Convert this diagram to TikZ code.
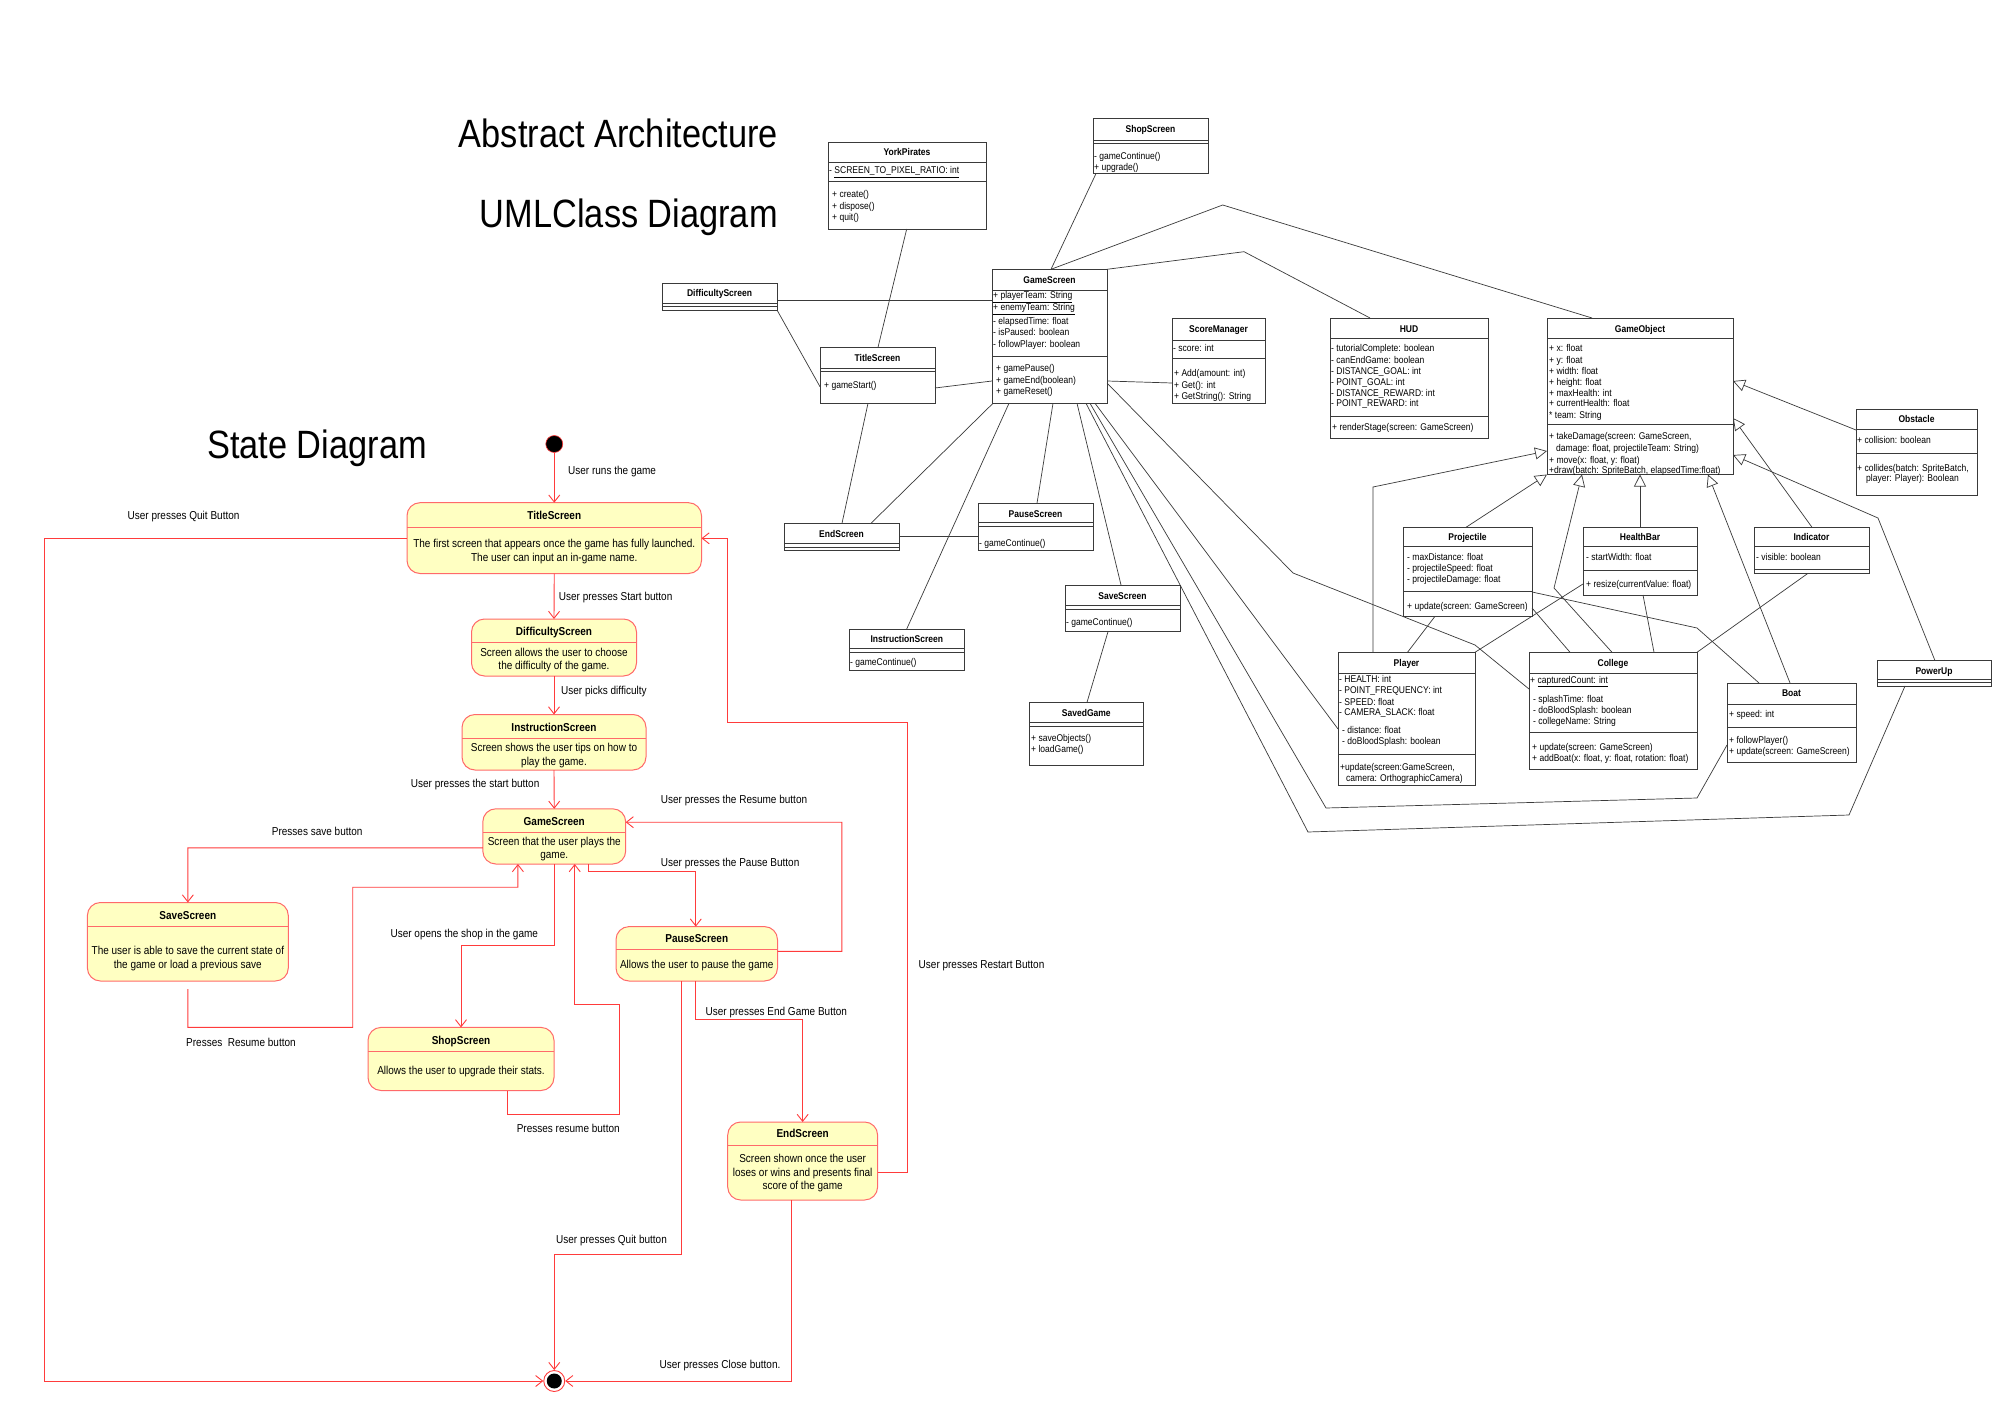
\documentclass[tikz,border=0pt]{standalone}
\usepackage{fontspec}
\setmainfont[FakeStretch=0.87]{Liberation Sans}
\usetikzlibrary{arrows.meta,calc}
\definecolor{umlc}{HTML}{3A3A3A}
\definecolor{sred}{HTML}{FF3B3B}
\definecolor{sbord}{HTML}{FF6A6A}
\definecolor{sfill}{HTML}{FFFFC2}
\newcounter{tn}
\newcommand\ctitle[3]{\stepcounter{tn}\node[ut] (t\arabic{tn}) at (#1,#2) {#3};}
\newcommand\crow[3]{\stepcounter{tn}\node[um] (t\arabic{tn}) at (#1,#2) {#3};}
\newcommand\hl[3]{\draw[ul] (#1,#3) -- (#2,#3);}
\newcommand\shl[3]{\draw[sbord, line width=1pt] (#1,#3) -- (#2,#3);}
\newcommand\stitle[3]{\stepcounter{tn}\node[stt] (t\arabic{tn}) at (#1,#2) {#3};}
\newcommand\stext[3]{\stepcounter{tn}\node[stx] (t\arabic{tn}) at (#1,#2) {#3};}
\newcommand\slabel[3]{\stepcounter{tn}\node[lbl] (t\arabic{tn}) at (#1,#2) {#3};}
\begin{document}
\begin{tikzpicture}[x=1pt,y=-1pt,
 ut/.style={font=\fontsize{9.8}{11}\selectfont\bfseries, anchor=base, inner sep=0pt},
 um/.style={font=\fontsize{9.8}{11}\selectfont, anchor=base west, inner sep=0pt},
 uml/.style={draw=umlc, line width=0.8pt, fill=white, inner sep=0pt, outer sep=0pt, anchor=north west, rectangle},
 ul/.style={draw=umlc, line width=0.8pt},
 asc/.style={draw=umlc, line width=0.7pt},
 inh/.style={asc, -{Triangle[open, length=12pt, width=12pt]}},
 st/.style={draw=sbord, line width=1pt, fill=sfill, rounded corners=13pt, inner sep=0pt, outer sep=0pt, anchor=north west, rectangle},
 stt/.style={font=\fontsize{11.5}{13}\selectfont\bfseries, anchor=base, inner sep=0pt},
 stx/.style={font=\fontsize{11.5}{13}\selectfont, anchor=base, inner sep=0pt},
 lbl/.style={font=\fontsize{11.5}{13}\selectfont, anchor=base west, inner sep=0pt},
 tr/.style={draw=sred, line width=0.9pt, -{Straight Barb[length=7pt, width=11pt]}},
 big/.style={font=\fontsize{39.5}{45}\selectfont, inner sep=0pt}]
\fill[white] (0,0) rectangle (2000,1415);
\useasboundingbox (0,0) rectangle (2000,1415);

% ---------------- headings ----------------
\node[big, anchor=base east] (hA) at (778,148) {Abstract Architecture};
\node[big, anchor=base east] (hU) at (778,228) {UMLClass Diagram};
\node[big, anchor=base west] (hS) at (207,458) {State Diagram};

% ---------------- UML class boxes ----------------
\node[uml, minimum width=158pt, minimum height=86.7pt] (yp) at (828,142.3) {};
\node[uml, minimum width=115pt, minimum height=55pt] (ssU) at (1093,118.6) {};
\node[uml, minimum width=115pt, minimum height=26.7pt] (dsU) at (662,283.3) {};
\node[uml, minimum width=115pt, minimum height=56pt] (tsU) at (820,347.3) {};
\node[uml, minimum width=115pt, minimum height=134pt] (gsU) at (992,269.3) {};
\node[uml, minimum width=93pt, minimum height=85pt] (smU) at (1172,318) {};
\node[uml, minimum width=158pt, minimum height=120pt] (hud) at (1330,318) {};
\node[uml, minimum width=186pt, minimum height=156.5pt] (goU) at (1547,318) {};
\node[uml, minimum width=121pt, minimum height=85.7pt] (obU) at (1856,409.3) {};
\node[uml, minimum width=129pt, minimum height=89pt] (prU) at (1403,527.3) {};
\node[uml, minimum width=114pt, minimum height=67.7pt] (hbU) at (1583,527.3) {};
\node[uml, minimum width=115pt, minimum height=46pt] (inU) at (1754,527.3) {};
\node[uml, minimum width=137pt, minimum height=132.7pt] (plU) at (1338,652.3) {};
\node[uml, minimum width=168pt, minimum height=117pt] (coU) at (1529,652.3) {};
\node[uml, minimum width=129pt, minimum height=79.7pt] (boU) at (1727,683) {};
\node[uml, minimum width=114pt, minimum height=25.3pt] (puU) at (1877,660.7) {};
\node[uml, minimum width=115pt, minimum height=26.7pt] (esU) at (784,523.3) {};
\node[uml, minimum width=115pt, minimum height=46.7pt] (psU) at (978,503.3) {};
\node[uml, minimum width=115pt, minimum height=46.7pt] (svU) at (1065,585) {};
\node[uml, minimum width=115pt, minimum height=41.7pt] (isU) at (849.3,629) {};
\node[uml, minimum width=114pt, minimum height=62.7pt] (sgU) at (1029.3,702.3) {};

% compartment lines
\hl{828}{986}{162.7} \hl{828}{986}{181.7}
\hl{1093}{1208}{140} \hl{1093}{1208}{143}
\hl{662}{777}{303} \hl{662}{777}{306.5}
\hl{820}{935}{368.3} \hl{820}{935}{371.7}
\hl{992}{1107}{290} \hl{992}{1107}{356}
\hl{1172}{1265}{340} \hl{1172}{1265}{358.3}
\hl{1330}{1488}{338.3} \hl{1330}{1488}{416}
\hl{1547}{1733}{338.3} \hl{1547}{1733}{424}
\hl{1856}{1977}{429.3} \hl{1856}{1977}{453.3}
\hl{1403}{1532}{546} \hl{1403}{1532}{591.7}
\hl{1583}{1697}{546.7} \hl{1583}{1697}{570.7}
\hl{1754}{1869}{546.7} \hl{1754}{1869}{569.5}
\hl{1338}{1475}{673.3} \hl{1338}{1475}{754}
\hl{1529}{1697}{673} \hl{1529}{1697}{732.7}
\hl{1727}{1856}{704} \hl{1727}{1856}{727.3}
\hl{1877}{1991}{679.3} \hl{1877}{1991}{682.7}
\hl{784}{899}{543.3} \hl{784}{899}{547}
\hl{978}{1093}{522.7} \hl{978}{1093}{526.7}
\hl{1065}{1180}{605} \hl{1065}{1180}{609}
\hl{849.3}{964.3}{648.3} \hl{849.3}{964.3}{652.3}
\hl{1029.3}{1143.3}{722} \hl{1029.3}{1143.3}{726}

% class names
\ctitle{907}{155.8}{YorkPirates}
\ctitle{1150.5}{132.5}{ShopScreen}
\ctitle{719.5}{296.5}{DifficultyScreen}
\ctitle{877.5}{361.3}{TitleScreen}
\ctitle{1049.5}{283.3}{GameScreen}
\ctitle{1218.5}{332.3}{ScoreManager}
\ctitle{1409}{332.3}{HUD}
\ctitle{1640}{332.3}{GameObject}
\ctitle{1916.5}{422}{Obstacle}
\ctitle{1467.5}{540.5}{Projectile}
\ctitle{1640}{540.5}{HealthBar}
\ctitle{1811.5}{540.5}{Indicator}
\ctitle{1406.5}{666}{Player}
\ctitle{1613}{666}{College}
\ctitle{1791.5}{696.5}{Boat}
\ctitle{1934}{674}{PowerUp}
\ctitle{841.5}{537.5}{EndScreen}
\ctitle{1035.5}{517.2}{PauseScreen}
\ctitle{1122.5}{599}{SaveScreen}
\ctitle{906.8}{642.3}{InstructionScreen}
\ctitle{1086.3}{716}{SavedGame}

% members
\crow{829}{173.5}{- \underline{SCREEN\_TO\_PIXEL\_RATIO: int}}
\crow{832}{198}{+ create()}
\crow{832}{209.7}{+ dispose()}
\crow{832}{220.3}{+ quit()}

\crow{1094}{159.7}{- gameContinue()}
\crow{1094}{170.3}{+ upgrade()}

\crow{824}{388.3}{+ gameStart()}

\crow{993}{298.7}{\underline{+ playerTeam: String}}
\crow{993}{310.3}{\underline{+ enemyTeam: String}}
\crow{993}{324.2}{- elapsedTime: float}
\crow{993}{335.7}{- isPaused: boolean}
\crow{993}{347.3}{- followPlayer: boolean}
\crow{996}{371.7}{+ gamePause()}
\crow{996}{383}{+ gameEnd(boolean)}
\crow{996}{394.7}{+ gameReset()}

\crow{1173}{352}{- score: int}
\crow{1174}{376.3}{+ Add(amount: int)}
\crow{1174}{388}{+ Get(): int}
\crow{1174}{399.7}{+ GetString(): String}

\crow{1331}{352}{- tutorialComplete: boolean}
\crow{1331}{363}{- canEndGame: boolean}
\crow{1331}{374}{- DISTANCE\_GOAL: int}
\crow{1331}{385}{- POINT\_GOAL: int}
\crow{1331}{396}{- DISTANCE\_REWARD: int}
\crow{1331}{406.5}{- POINT\_REWARD: int}
\crow{1332}{430}{+ renderStage(screen: GameScreen)}

\crow{1549}{352}{+ x: float}
\crow{1549}{363}{+ y: float}
\crow{1549}{374}{+ width: float}
\crow{1549}{385}{+ height: float}
\crow{1549}{396}{+ maxHealth: int}
\crow{1549}{406.5}{+ currentHealth: float}
\crow{1549}{418}{* team: String}
\crow{1549}{439.7}{+ takeDamage(screen: GameScreen,}
\crow{1556}{451.3}{damage: float, projectileTeam: String)}
\crow{1549}{463}{+ move(x: float, y: float)}
\crow{1549}{473.5}{+draw(batch: SpriteBatch, elapsedTime:float)}

\crow{1857}{443}{+ collision: boolean}
\crow{1857}{471.3}{+ collides(batch: SpriteBatch,}
\crow{1866}{481.3}{player: Player): Boolean}

\crow{1407}{560.7}{- maxDistance: float}
\crow{1407}{571.7}{- projectileSpeed: float}
\crow{1407}{582.7}{- projectileDamage: float}
\crow{1407}{609.7}{+ update(screen: GameScreen)}

\crow{1586}{560.7}{- startWidth: float}
\crow{1586}{587}{+ resize(currentValue: float)}

\crow{1756}{560.7}{- visible: boolean}

\crow{1339}{682.3}{- HEALTH: int}
\crow{1339}{693.3}{- POINT\_FREQUENCY: int}
\crow{1339}{705}{- SPEED: float}
\crow{1339}{715.7}{- CAMERA\_SLACK: float}
\crow{1342}{733.3}{- distance: float}
\crow{1342}{744}{- doBloodSplash: boolean}
\crow{1340}{770.7}{+update(screen:GameScreen,}
\crow{1346}{781.7}{camera: OrthographicCamera)}

\crow{1530}{683}{+ \underline{capturedCount: int}}
\crow{1533}{702}{- splashTime: float}
\crow{1533}{713}{- doBloodSplash: boolean}
\crow{1533}{724}{- collegeName: String}
\crow{1532}{750.7}{+ update(screen: GameScreen)}
\crow{1532}{761.3}{+ addBoat(x: float, y: float, rotation: float)}

\crow{1729}{717.3}{+ speed: int}
\crow{1729}{743.7}{+ followPlayer()}
\crow{1729}{754.7}{+ update(screen: GameScreen)}

\crow{979}{546.3}{- gameContinue()}
\crow{1066}{625.7}{- gameContinue()}
\crow{850}{665.7}{- gameContinue()}
\crow{1031}{741.3}{+ saveObjects()}
\crow{1031}{752}{+ loadGame()}

% ---------------- UML connectors ----------------
\draw[asc] ($(gsU.north west)+(59,0)$) -- ($(ssU.north west)+(3,55)$);
\draw[asc] ($(gsU.north west)+(59,0)$) -- (1222.7,205) -- ($(goU.north west)+(45,0)$);
\draw[asc] (gsU.north east) -- (1244,251.7) -- ($(hud.north west)+(40,0)$);
\draw[asc] ($(dsU.north east)+(0,16.7)$) -- ($(gsU.north west)+(0,30.7)$);
\draw[asc] (dsU.south east) -- ($(tsU.north west)+(0,39.4)$);
\draw[asc] ($(tsU.north west)+(58,0)$) -- ($(yp.south west)+(78.7,0)$);
\draw[asc] ($(tsU.north east)+(0,40.7)$) -- ($(gsU.north west)+(0,111.7)$);
\draw[asc] ($(gsU.north east)+(0,111.7)$) -- ($(smU.north west)+(0,65)$);
\draw[asc] ($(tsU.south west)+(48,0)$) -- ($(esU.north west)+(58,0)$);
\draw[asc] ($(gsU.south west)+(1,0)$) -- ($(esU.north west)+(87,0)$);
\draw[asc] ($(gsU.south west)+(61,0)$) -- ($(psU.north west)+(59,0)$);
\draw[asc] ($(esU.north east)+(0,13.4)$) -- ($(psU.north west)+(0,33.4)$);
\draw[asc] ($(gsU.south west)+(17,0)$) -- ($(isU.north west)+(57.4,0)$);
\draw[asc] ($(gsU.south west)+(85,0)$) -- ($(svU.north west)+(56,0)$);
\draw[asc] ($(svU.south west)+(43,0)$) -- ($(sgU.north west)+(57.7,0)$);
\draw[asc] ($(gsU.north east)+(0,113.7)$) -- (1293,573) -- (1475,645) -- ($(coU.north west)+(0,36.7)$);
\draw[asc] ($(gsU.south west)+(103,0)$) -- ($(plU.north west)+(0,76.7)$);
\draw[asc] ($(gsU.south west)+(98,0)$) -- (1326,808) -- (1697,798) -- ($(boU.north west)+(0,62)$);
\draw[asc] ($(gsU.south west)+(94,0)$) -- (1308,832) -- (1849,815) -- ($(puU.south west)+(28,0)$);
\draw[inh] ($(obU.north west)+(0,20.7)$) -- ($(goU.north east)+(0,63)$);
\draw[inh] ($(inU.north west)+(58,0)$) -- ($(goU.north east)+(0,100)$);
\draw[inh] ($(puU.north west)+(58,0)$) -- (1878,518) -- ($(goU.north east)+(0,137)$);
\draw[inh] ($(boU.north west)+(63,0)$) -- ($(goU.south west)+(161,0)$);
\draw[inh] ($(hbU.north west)+(57,0)$) -- ($(goU.south west)+(93,0)$);
\draw[inh] ($(coU.north west)+(83,0)$) -- (1554,588) -- ($(goU.south west)+(35,0)$);
\draw[inh] ($(prU.north west)+(63,0)$) -- (goU.south west);
\draw[inh] ($(plU.north west)+(35,0)$) -- (1373,487) -- ($(goU.north west)+(0,133)$);
\draw[asc] ($(prU.south west)+(32,0)$) -- ($(plU.north west)+(69.5,0)$);
\draw[asc] ($(prU.north east)+(0,80.7)$) -- ($(coU.north west)+(41,0)$);
\draw[asc] ($(prU.north east)+(0,64.7)$) -- (1697,628) -- ($(boU.north west)+(32,0)$);
\draw[asc] ($(hbU.north west)+(0,56.7)$) -- (plU.north east);
\draw[asc] ($(hbU.south west)+(60,0)$) -- ($(coU.north west)+(125,0)$);
\draw[asc] ($(inU.south west)+(54,0)$) -- (coU.north east);

% ---------------- State diagram ----------------
\node[st, minimum width=294.5pt, minimum height=70.8pt] (sTitle) at (407,502.7) {};
\node[st, minimum width=165pt, minimum height=57pt] (sDiff) at (471.5,619) {};
\node[st, minimum width=184pt, minimum height=55.5pt] (sInstr) at (462,714.5) {};
\node[st, minimum width=142.9pt, minimum height=55.2pt] (sGame) at (482.8,808.8) {};
\node[st, minimum width=200.9pt, minimum height=78.5pt] (sSave) at (87.4,902.5) {};
\node[st, minimum width=186pt, minimum height=63.1pt] (sShop) at (368,1027.4) {};
\node[st, minimum width=161.5pt, minimum height=54.4pt] (sPause) at (616,926.6) {};
\node[st, minimum width=149.9pt, minimum height=78pt] (sEnd) at (727.7,1122) {};

\shl{407}{701.5}{527.3}
\shl{471.5}{636.5}{642.3}
\shl{462}{646}{738.3}
\shl{482.8}{625.7}{832}
\shl{87.4}{288.3}{926.6}
\shl{368}{554}{1051}
\shl{616}{777.5}{949.4}
\shl{727.7}{877.6}{1145}

\stitle{554.25}{519.3}{TitleScreen}
\stext{554.25}{547.7}{The first screen that appears once the game has fully launched.}
\stext{554.25}{561.2}{The user can input an in-game name.}
\stitle{554}{635.5}{DifficultyScreen}
\stext{554}{656.3}{Screen allows the user to choose}
\stext{554}{669.7}{the difficulty of the game.}
\stitle{554}{731}{InstructionScreen}
\stext{554}{751.3}{Screen shows the user tips on how to}
\stext{554}{765.3}{play the game.}
\stitle{554.25}{825.4}{GameScreen}
\stext{554.25}{845.6}{Screen that the user plays the}
\stext{554.25}{858.6}{game.}
\stitle{187.85}{919}{SaveScreen}
\stext{187.85}{954.7}{The user is able to save the current state of}
\stext{187.85}{968.1}{the game or load a previous save}
\stitle{461}{1044}{ShopScreen}
\stext{461}{1074.5}{Allows the user to upgrade their stats.}
\stitle{696.75}{942.8}{PauseScreen}
\stext{696.75}{968.9}{Allows the user to pause the game}
\stitle{802.65}{1137.4}{EndScreen}
\stext{802.65}{1162.7}{Screen shown once the user}
\stext{802.65}{1176.1}{loses or wins and presents final}
\stext{802.65}{1189.5}{score of the game}

\node[circle, fill=black, draw=sred, line width=0.6pt, minimum size=17pt, inner sep=0pt] (init) at (554.25,444) {};
\node[circle, fill=white, draw=sred, line width=0.9pt, minimum size=21pt, inner sep=0pt] (fin) at (554.25,1381) {};
\node[circle, fill=black, minimum size=15pt, inner sep=0pt] (finIn) at (fin.center) {};

% transition labels
\slabel{568}{474.3}{User runs the game}
\slabel{127.5}{519}{User presses Quit Button}
\slabel{558.7}{600.3}{User presses Start button}
\slabel{561}{694.3}{User picks difficulty}
\slabel{410.7}{787.8}{User presses the start button}
\slabel{660.7}{803.3}{User presses the Resume button}
\slabel{271.7}{835.3}{Presses save button}
\slabel{660.7}{866.8}{User presses the Pause Button}
\slabel{390.4}{937.3}{User opens the shop in the game}
\slabel{918.5}{968.8}{User presses Restart Button}
\slabel{705.5}{1015.3}{User presses End Game Button}
\slabel{186}{1046.8}{Presses~ Resume button}
\slabel{516.6}{1132.3}{Presses resume button}
\slabel{556}{1243.3}{User presses Quit button}
\slabel{659.5}{1368.3}{User presses Close button.}

% transitions
\draw[tr] (init.south) -- (sTitle.north);
\draw[tr] (sTitle.south) -- (sDiff.north);
\draw[tr] (sDiff.south) -- (sInstr.north);
\draw[tr] (sInstr.south) -- (sGame.north);
\draw[tr] ($(sGame.north west)+(0,39)$) -- (187.85,847.8) -- (sSave.north);
\draw[tr] ($(sSave.south)+(0,8)$) -- (187.85,1027.4) -- (352.7,1027.4) -- (352.7,887.2) -- (517.9,887.2) -- ($(sGame.south west)+(35.1,0)$);
\draw[tr] ($(sGame.south west)+(71.5,0)$) -- (554.3,945.5) -- (461,945.5) -- (sShop.north);
\draw[tr] ($(sShop.south west)+(139.7,0)$) -- (507.7,1114) -- (619.3,1114) -- (619.3,1004.6) -- (574.7,1004.6) -- ($(sGame.south west)+(91.9,0)$);
\draw[tr] ($(sGame.south west)+(105.2,0)$) -- (588,871.4) -- (695.8,871.4) -- ($(sPause.north west)+(79.8,0)$);
\draw[tr] ($(sPause.north east)+(0,24.8)$) -- (841.9,951.4) -- (841.9,822.2) -- ($(sGame.north east)+(0,13.4)$);
\draw[tr] ($(sPause.south west)+(79.8,0)$) -- (695.8,1019.5) -- (802.65,1019.5) -- (sEnd.north);
\draw[tr] ($(sPause.south west)+(65.8,0)$) -- (681.8,1254.8) -- (554.25,1254.8) -- (fin.north);
\draw[tr] ($(sEnd.north east)+(0,50.4)$) -- (907,1172.4) -- (907,722.7) -- (727.3,722.7) -- (727.3,538.3) -- ($(sTitle.north east)+(0,35.6)$);
\draw[tr] ($(sEnd.south west)+(63.8,0)$) -- (791.5,1381) -- (fin.east);
\draw[tr] ($(sTitle.north west)+(0,35.6)$) -- (44.6,538.3) -- (44.6,1381) -- (fin.west);
\end{tikzpicture}
\end{document}
